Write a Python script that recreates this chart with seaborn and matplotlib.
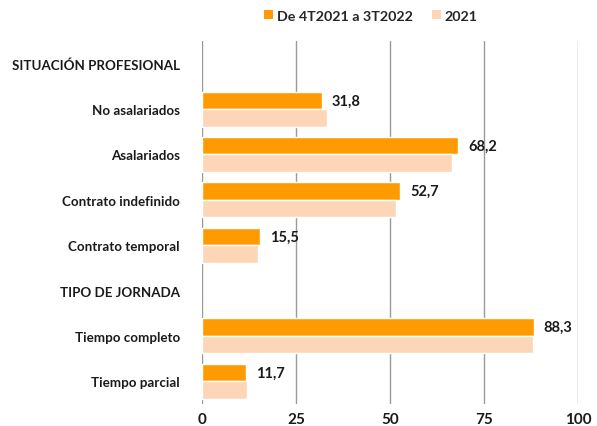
import numpy as np
import pandas as pd
import matplotlib
matplotlib.use("Agg")
import matplotlib.pyplot as plt
import seaborn as sns
from matplotlib.patches import Patch

categories = ["SITUACIÓN PROFESIONAL", "No asalariados", "Asalariados",
              "Contrato indefinido", "Contrato temporal", "TIPO DE JORNADA",
              "Tiempo completo", "Tiempo parcial"]
bar_categories = ["No asalariados", "Asalariados", "Contrato indefinido",
                  "Contrato temporal", "Tiempo completo", "Tiempo parcial"]
series_names = ["De 4T2021 a 3T2022", "2021"]
values_recent = [31.8, 68.2, 52.7, 15.5, 88.3, 11.7]
values_2021 = [33.3, 66.6, 51.7, 14.8, 88.0, 12.1]
x_ticks = [0, 25, 50, 75, 100]
colors = ["#FF9B00", "#FCD6B6"]

sns.set_theme(style="white")
plt.rcParams['font.family'] = ['Lato', 'DejaVu Sans']

df = pd.DataFrame({
    "cat": bar_categories * 2,
    "serie": [series_names[0]] * len(bar_categories) + [series_names[1]] * len(bar_categories),
    "val": values_recent + values_2021,
})

fig, ax = plt.subplots(figsize=(5.97, 4.27), dpi=100)
fig.subplots_adjust(left=202/597, right=578/597, top=1-42/427, bottom=1-405/427)

sns.barplot(data=df, y="cat", x="val", hue="serie", order=categories,
            hue_order=series_names, palette=colors, orient="h",
            width=0.77, ax=ax, legend=False, saturation=1, errorbar=None)

ax.set_xlim(0, 100)
ax.set_ylim(len(categories) - 0.5, -0.5)
ax.set_xticks(x_ticks)
ax.set_xticklabels([str(t) for t in x_ticks], fontsize=11, fontweight="bold", color="#1a1a1a")
ax.set_yticklabels(categories, fontsize=9.6, fontweight="bold", color="#1a1a1a")
ax.tick_params(axis="y", length=0, pad=16)
ax.tick_params(axis="x", length=0, pad=6)
ax.set_xlabel("")
ax.set_ylabel("")
for s in ax.spines.values():
    s.set_visible(False)
ax.grid(axis="x", color="#9a9a9a", linewidth=1)
ax.set_axisbelow(True)

cont = ax.containers[0]
ax.bar_label(cont, labels=[f"{v:.1f}".replace(".", ",") for v in values_recent],
             padding=7, fontsize=10.5, fontweight="bold", color="#1a1a1a")

handles = [Patch(facecolor=c, edgecolor="none") for c in colors]
fig.legend(handles, series_names, loc="center", bbox_to_anchor=(371/597, 1-17/427),
           ncol=2, frameon=False, prop={"weight": "bold", "size": 10.3},
           handlelength=0.6, handleheight=0.6, handletextpad=0.25, columnspacing=1.4)

fig.savefig("out.png", dpi=100)
